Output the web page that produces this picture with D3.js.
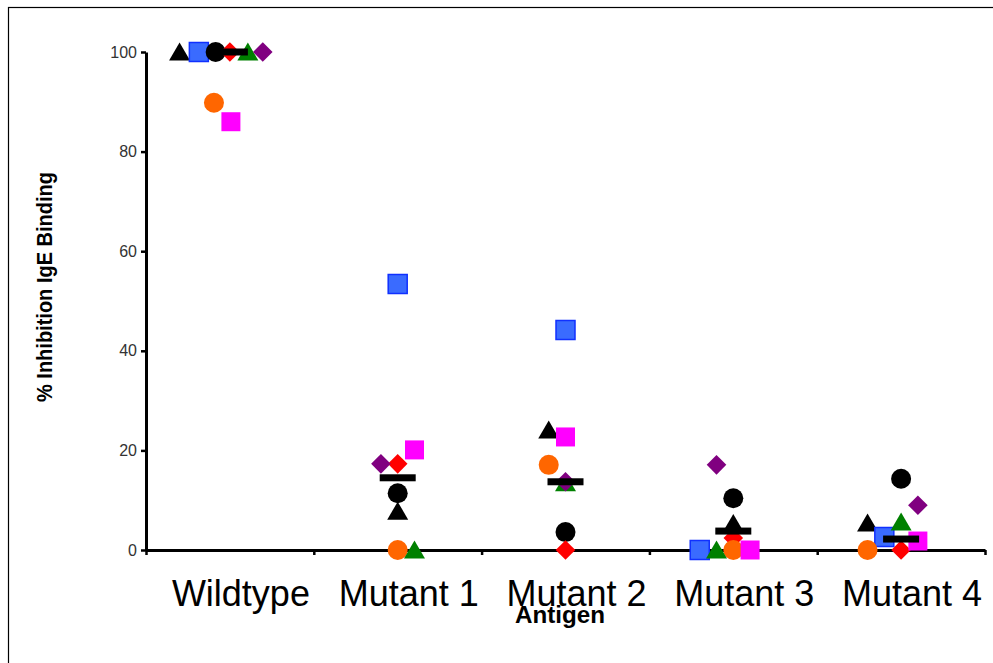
<!DOCTYPE html>
<html>
<head>
<meta charset="utf-8">
<script src="https://cdn.jsdelivr.net/npm/d3@7"></script>
<style>
  html, body { margin: 0; padding: 0; background: #fff; }
  svg { display: block; }
</style>
</head>
<body>
<svg id="chart" width="993" height="663"></svg>
<script>
// ---- data ----
const categories = ["Wildtype", "Mutant 1", "Mutant 2", "Mutant 3", "Mutant 4"];
const yTicks = [0, 20, 40, 60, 80, 100];

const blackTriangle = [100, 7.8, 24.1, 5.3, 5.4];
const blueSquare    = [100, 53.4, 44.2, 0, 2.6];
const blackCircle   = [100, 11.4, 3.6, 10.4, 14.3];
const redDiamond    = [100, 17.3, 0, 2.4, 0];
const orangeCircle  = [89.8, 0, 17.1, 0, 0];
const greenTriangle = [100, 0, 13.5, 0, 5.6];
const purpleDiamond = [100, 17.3, 13.7, 17.1, 9.0];
const magentaSquare = [86, 20.1, 22.7, 0, 1.8];
const medians       = [100, 14.5, 13.7, 3.8, 2.2];

// horizontal jitter slots (layout only, one slot = 1/10 of a category band)
const jitter = {
  blackTriangle: [-3, 0, -1, 0, -2],
  blueSquare:    [-1.85, 0, 0, -2, -1],
  blackCircle:   [-0.85, 0, 0, 0, 0],
  redDiamond:    [0, 0, 0, 0, 0],
  orangeCircle:  [-0.95, 0, -1, 0, -2],
  greenTriangle: [1.07, 1, 0, -1, 0],
  purpleDiamond: [1.96, -1, 0, -1, 1],
  magentaSquare: [0.06, 1, 0, 1, 1]
};

const series = [
  { name: "blackTriangle", values: blackTriangle, shape: "triangle", fill: "#000000", stroke: "none" },
  { name: "blueSquare",    values: blueSquare,    shape: "square",   fill: "#3a6bff", stroke: "#1030ff" },
  { name: "blackCircle",   values: blackCircle,   shape: "circle",   fill: "#000000", stroke: "none" },
  { name: "redDiamond",    values: redDiamond,    shape: "diamond",  fill: "#ff0000", stroke: "none" },
  { name: "orangeCircle",  values: orangeCircle,  shape: "circle",   fill: "#ff6600", stroke: "none" },
  { name: "greenTriangle", values: greenTriangle, shape: "triangle", fill: "#008000", stroke: "none" },
  { name: "purpleDiamond", values: purpleDiamond, shape: "diamond",  fill: "#800080", stroke: "none" },
  { name: "magentaSquare", values: magentaSquare, shape: "square",   fill: "#ff00ff", stroke: "none" }
];

// ---- layout ----
const svg = d3.select("#chart");
const plotLeft = 146, plotRight = 985, plotTop = 52, plotBottom = 550;

const x = d3.scaleBand().domain(categories).range([plotLeft, plotRight]).padding(0);
const xEdges = d3.scaleLinear().domain([0, categories.length]).range([plotLeft, plotRight]);
const y = d3.scaleLinear().domain([0, 100]).range([plotBottom, plotTop]);
const slot = x.bandwidth() / 10;

// outer frame
svg.append("rect")
  .attr("x", 8.5).attr("y", 7.5)
  .attr("width", 1100).attr("height", 800)
  .attr("fill", "none").attr("stroke", "#000").attr("stroke-width", 1.2);

// y axis
const yAxis = svg.append("g")
  .attr("transform", `translate(${plotLeft},0)`)
  .call(d3.axisLeft(y).tickValues(yTicks).tickSize(5).tickSizeOuter(0).tickPadding(4));
yAxis.select(".domain").attr("stroke", "#000").attr("stroke-width", 3);
yAxis.selectAll(".tick line").attr("stroke", "#000").attr("stroke-width", 2.5);
yAxis.selectAll(".tick text")
  .attr("font-family", "Liberation Sans, Arial, sans-serif")
  .attr("font-size", 16).attr("fill", "#333");

// x axis (ticks at band edges)
const xAxis = svg.append("g")
  .attr("transform", `translate(0,${plotBottom})`)
  .call(d3.axisBottom(xEdges).ticks(categories.length).tickSize(5).tickSizeOuter(0).tickFormat(""));
xAxis.select(".domain").attr("stroke", "#000").attr("stroke-width", 3);
xAxis.selectAll(".tick line").attr("stroke", "#000").attr("stroke-width", 2.5);

// category labels
svg.append("g").selectAll("text")
  .data(categories).join("text")
  .attr("x", d => x(d) + x.bandwidth() / 2 + 11)
  .attr("y", 606)
  .attr("text-anchor", "middle")
  .attr("font-family", "Liberation Sans, Arial, sans-serif")
  .attr("font-size", 36)
  .attr("fill", "#000")
  .text(d => d);

// axis titles
svg.append("text")
  .attr("x", 560).attr("y", 623)
  .attr("text-anchor", "middle")
  .attr("font-family", "Liberation Sans, Arial, sans-serif")
  .attr("font-weight", "bold")
  .attr("font-size", 24)
  .attr("textLength", 90)
  .attr("lengthAdjust", "spacingAndGlyphs")
  .text("Antigen");

svg.append("text")
  .attr("transform", "translate(52,287) rotate(-90)")
  .attr("text-anchor", "middle")
  .attr("font-family", "Liberation Sans, Arial, sans-serif")
  .attr("font-weight", "bold")
  .attr("font-size", 22)
  .attr("textLength", 230)
  .attr("lengthAdjust", "spacingAndGlyphs")
  .text("% Inhibition IgE Binding");

// marker shapes
function shapePath(shape) {
  switch (shape) {
    case "triangle": return "M0,-9.5L10.5,8.5L-10.5,8.5Z";
    case "square":   return "M-9.5,-9.5H9.5V9.5H-9.5Z";
    case "diamond":  return "M0,-9.8L9.8,0L0,9.8L-9.8,0Z";
    case "circle":   return d3.arc()({ innerRadius: 0, outerRadius: 10, startAngle: 0, endAngle: 2 * Math.PI });
  }
}

const pts = svg.append("g");
series.forEach(s => {
  pts.append("g").selectAll("path")
    .data(s.values.map((v, i) => ({ v, i })))
    .join("path")
    .attr("d", shapePath(s.shape))
    .attr("transform", d => `translate(${x(categories[d.i]) + x.bandwidth() / 2 + jitter[s.name][d.i] * slot},${y(d.v)})`)
    .attr("fill", s.fill)
    .attr("stroke", s.stroke)
    .attr("stroke-width", s.stroke === "none" ? 0 : 1.5);
});

// median bars
svg.append("g").selectAll("rect")
  .data(medians.map((v, i) => ({ v, i })))
  .join("rect")
  .attr("x", d => x(categories[d.i]) + x.bandwidth() / 2 - 18)
  .attr("y", d => y(d.v) - 3.5)
  .attr("width", 36).attr("height", 7)
  .attr("fill", "#000");
</script>
</body>
</html>
